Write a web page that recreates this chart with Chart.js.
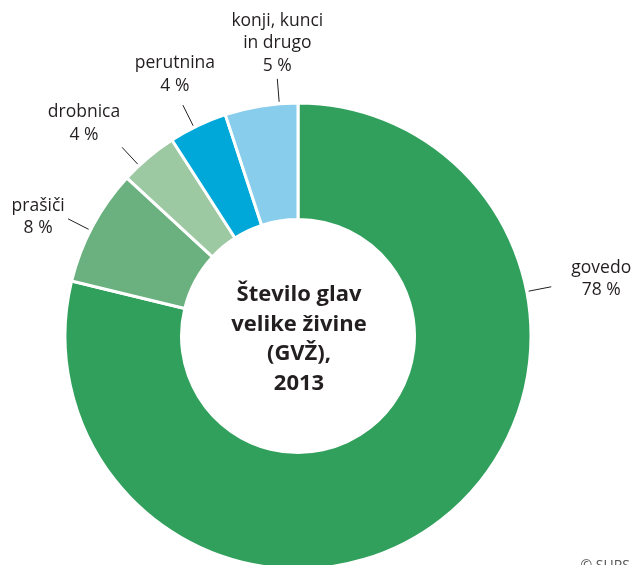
<!DOCTYPE html>
<html>
<head>
<meta charset="utf-8">
<script src="https://cdn.jsdelivr.net/npm/chart.js@4"></script>
<style>
  html, body { margin: 0; padding: 0; background: #fff; overflow: hidden; }
  #gvz-chart { display: block; }
</style>
</head>
<body>
<canvas id="gvz-chart" width="635" height="565"></canvas>
<script>
// Categories (clockwise from 12 o'clock) and their shares in %
const categories = ['govedo', 'prašiči', 'drobnica', 'perutnina', 'konji, kunci in drugo'];
const labelLines = [['govedo'], ['prašiči'], ['drobnica'], ['perutnina'], ['konji, kunci', 'in drugo']];
const shares = [78, 8, 4, 4, 5];
const sliceColors = ['#31a05c', '#6ab17f', '#9cc8a2', '#00a7d9', '#88cdeb'];
const centerTitle = ['Število glav', 'velike živine', '(GVŽ),', '2013'];

// Leader line angle (deg, clockwise from top) and text offset from the line end
const labelPlacement = [
    { angle: 79, dx: 50, dy: -19 },
    { angle: -63, dx: -30, dy: -13 },
    { angle: -43, dx: -38, dy: -35 },
    { angle: -26.5, dx: -8, dy: -42 },
    { angle: -4.6, dx: 0, dy: -58 }
];

const FONT = '"Open Sans", "Noto Sans", sans-serif';
const TEXT_COLOR = '#231f20';

// Draws leader lines, outside labels, centre title and source note
const pieLabels = {
    id: 'pieLabels',
    afterDatasetsDraw(chart) {
        const ctx = chart.ctx;
        const arc = chart.getDatasetMeta(0).data[0];
        const cx = arc.x, cy = arc.y, r = arc.outerRadius;

        ctx.save();
        ctx.strokeStyle = TEXT_COLOR;
        ctx.lineWidth = 1;
        ctx.fillStyle = TEXT_COLOR;
        ctx.font = '17.5px ' + FONT;
        ctx.textAlign = 'center';
        ctx.textBaseline = 'middle';

        labelPlacement.forEach((p, i) => {
            const a = p.angle * Math.PI / 180;
            const sx = cx + Math.sin(a) * (r + 2), sy = cy - Math.cos(a) * (r + 2);
            const ex = cx + Math.sin(a) * (r + 25), ey = cy - Math.cos(a) * (r + 25);
            ctx.beginPath();
            ctx.moveTo(sx, sy);
            ctx.lineTo(ex, ey);
            ctx.stroke();

            const lines = labelLines[i].concat([shares[i] + ' %']);
            lines.forEach((t, j) => {
                ctx.fillText(t, ex + p.dx, ey + p.dy + j * 22.5);
            });
        });

        // title inside the hole
        ctx.font = 'bold 22px ' + FONT;
        centerTitle.forEach((t, j) => {
            ctx.fillText(t, cx + 1, cy - 41 + j * 29.5);
        });

        // source
        ctx.font = '14px ' + FONT;
        ctx.fillStyle = '#555';
        ctx.textAlign = 'right';
        ctx.fillText('© SURS', 630, 566);
        ctx.restore();
    }
};

const ctx = document.getElementById('gvz-chart').getContext('2d');
new Chart(ctx, {
    type: 'doughnut',
    data: {
        labels: categories,
        datasets: [{
            data: shares,
            backgroundColor: sliceColors,
            borderColor: '#ffffff',
            borderWidth: 3,
            clip: false
        }]
    },
    options: {
        responsive: false,
        animation: false,
        radius: 233,
        cutout: '50%',
        layout: { padding: { left: 0, right: 39, top: 107, bottom: 0 } },
        plugins: {
            legend: { display: false },
            tooltip: { enabled: false }
        }
    },
    plugins: [pieLabels]
});
</script>
</body>
</html>
